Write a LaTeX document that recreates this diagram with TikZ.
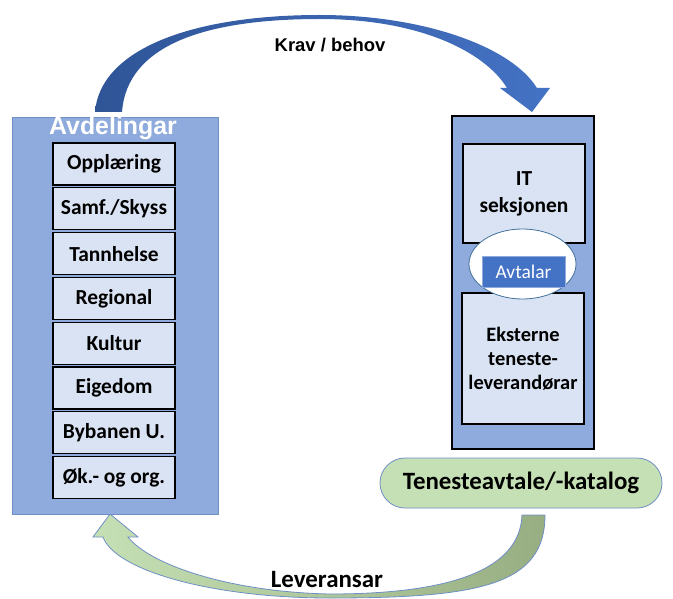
\documentclass[tikz,border=0pt]{standalone}
\usepackage{fontspec}
\setmainfont{Carlito}
\newfontfamily\arialfont{Liberation Sans}
\usetikzlibrary{shapes.geometric}
\definecolor{outerblue}{HTML}{8FAADC}
\definecolor{innerblue}{HTML}{DAE3F3}
\definecolor{edgeblue}{HTML}{6F8FC6}
\definecolor{ringblue}{HTML}{41719C}
\definecolor{darkblue}{HTML}{2F5597}
\definecolor{midblue}{HTML}{4472C4}
\definecolor{lightgreen}{HTML}{C5E0B4}
\definecolor{olivegreen}{HTML}{97AE82}
\tikzset{
  groupbox/.style={rectangle, fill=outerblue, inner sep=0pt},
  unitbox/.style={rectangle, draw=black, line width=1.3bp, fill=innerblue,
    minimum width=122bp, minimum height=42bp, inner sep=0pt, align=center,
    font=\fontsize{21.5}{25}\selectfont\bfseries},
  flowlabel/.style={font=\fontsize{25}{30}\selectfont\bfseries},
}

\begin{document}
\begin{tikzpicture}[x=1bp,y=-1bp]
\useasboundingbox (0,0) rectangle (673,599);

% krav / behov (upper curved arrow)
\shade[left color=darkblue, right color=midblue]
  (95,112) .. controls (100,50) and (190,15) .. (320,15)
  .. controls (420,15) and (510,45) .. (537,88)
  -- (550,88) -- (532,112) -- (500,88) -- (507,88)
  .. controls (485,52) and (420,19) .. (320,19)
  .. controls (205,19) and (127,45) .. (122,112) -- cycle;
\node[font=\arialfont\fontsize{18.5}{22}\selectfont\bfseries] (krav) at (330,45) {Krav / behov};

% leveransar (lower curved arrow)
\shade[left color=lightgreen, right color=olivegreen, draw=edgeblue, line width=0.8bp]
  (545,515) .. controls (545,585) and (480,598) .. (330,598)
  .. controls (210,598) and (115,570) .. (103,537)
  -- (93,537) -- (110,514) -- (138,537) -- (128,537)
  .. controls (150,565) and (230,592) .. (330,594)
  .. controls (450,594) and (520,570) .. (522,515) -- cycle;
\node[flowlabel] (lev) at (327,580) {Leveransar};

% avdelingar
\node[groupbox, draw=edgeblue, line width=0.8bp, minimum width=206bp, minimum height=397bp] (avd) at (115,315.5) {};
\node[text=white, font=\arialfont\fontsize{25}{29}\selectfont\bfseries] (avd-title) at (113,128) {Avdelingar};
\foreach \name [count=\i from 0] in {Opplæring,Samf./Skyss,Tannhelse,Regional,Kultur,Eigedom,Bybanen U.,Øk.- og org.} {
  \node[unitbox] (unit-\i) at (114,164+44.8*\i) {\name};
}

% IT / leverandorar
\node[groupbox, draw=black, line width=1.6bp, minimum width=142bp, minimum height=333bp] (itgrp) at (523,282.5) {};
\node[unitbox, minimum height=99bp, font=\fontsize{21.5}{27}\selectfont\bfseries] (it) at (524,193.5) {IT\\seksjonen};
\node[unitbox, minimum height=131bp, font=\fontsize{20.5}{24}\selectfont\bfseries] (ext) at (523,358.5) {Eksterne\\teneste-\\leverandørar};
\node[ellipse, draw=ringblue, line width=0.8bp, fill=white, minimum width=107bp, minimum height=70bp] (ring) at (522.5,264) {};
\node[rectangle, fill=midblue, draw=outerblue, line width=0.6bp, minimum width=83bp, minimum height=31bp, inner sep=0pt,
  text=white, font=\fontsize{19.5}{23}\selectfont] (avtalar) at (523.5,271.5) {Avtalar};

% katalog
\node[rectangle, rounded corners=25bp, fill=lightgreen, draw=edgeblue, line width=0.8bp,
  minimum width=282bp, minimum height=50bp, flowlabel] (katalog) at (521,483) {Tenesteavtale/-katalog};
\end{tikzpicture}
\end{document}
